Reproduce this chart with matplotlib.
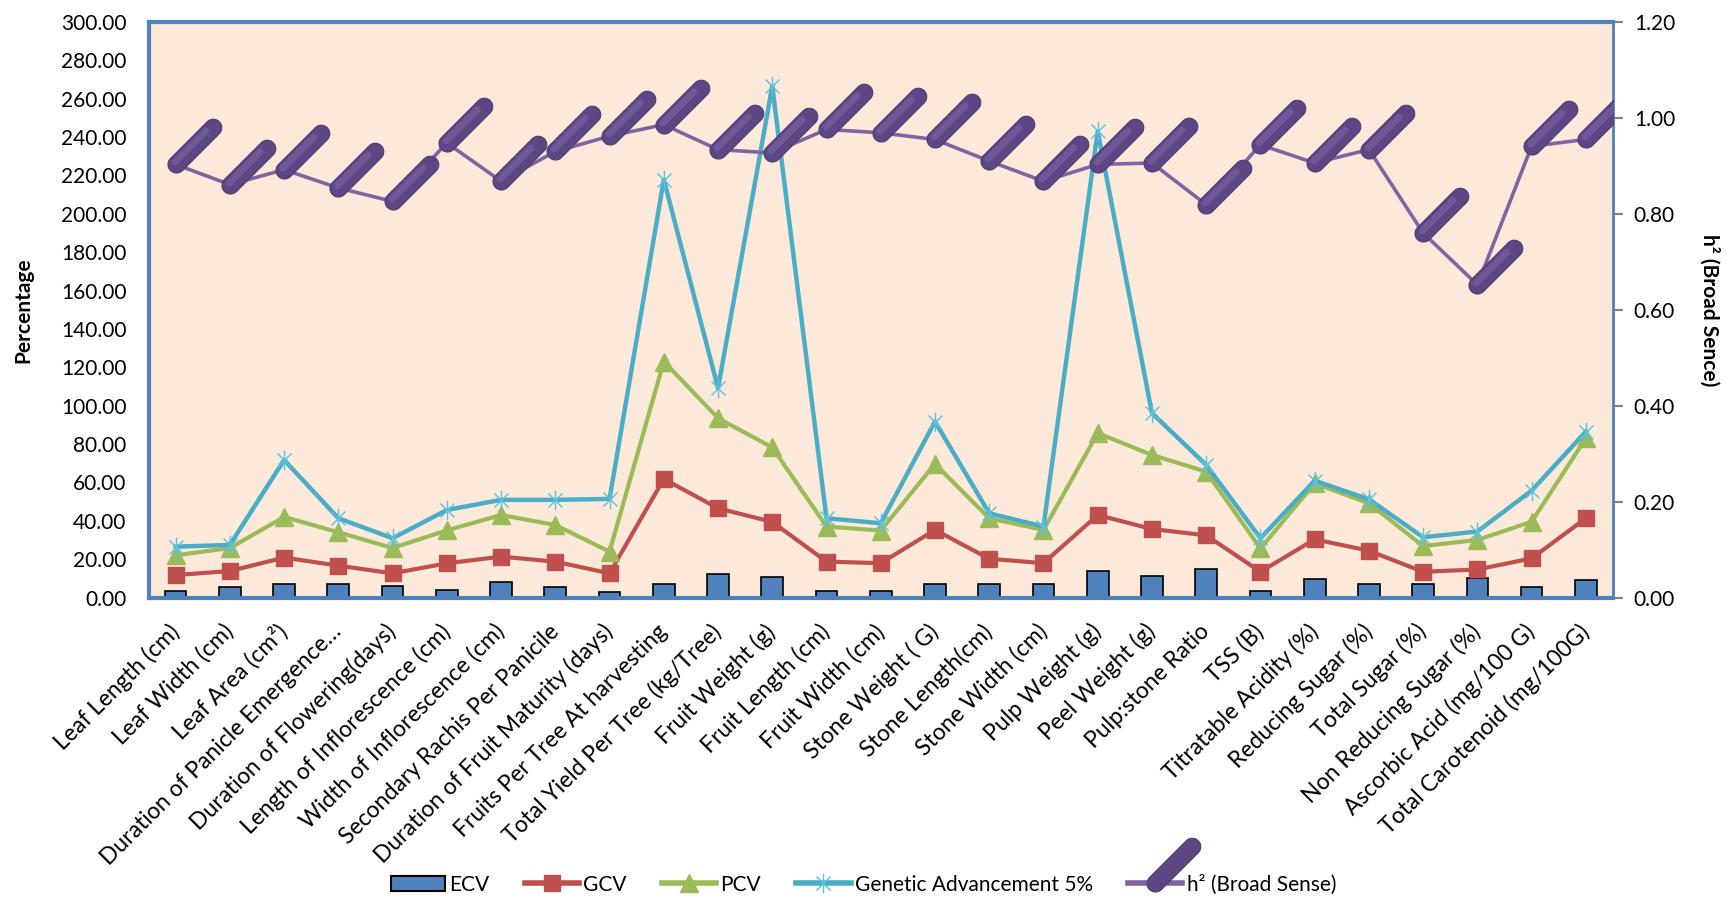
import numpy as np
import matplotlib
matplotlib.use("Agg")
import matplotlib.pyplot as plt
from matplotlib.path import Path
from matplotlib.lines import Line2D
from matplotlib.patches import Patch

plt.rcParams['font.family'] = ['Lato', 'DejaVu Sans']

traits = [
    "Leaf Length (cm)", "Leaf Width (cm)", "Leaf Area (cm²)",
    "Duration of Panicle Emergence…", "Duration of Flowering(days)",
    "Length of Inflorescence (cm)", "Width of Inflorescence (cm)",
    "Secondary Rachis Per Panicile", "Duration of Fruit Maturity (days)",
    "Fruits Per Tree At harvesting", "Total Yield Per Tree (kg/Tree)",
    "Fruit Weight (g)", "Fruit Length (cm)", "Fruit Width (cm)",
    "Stone Weight ( G)", "Stone Length(cm)", "Stone Width (cm)",
    "Pulp Weight (g)", "Peel Weight (g)", "Pulp:stone Ratio", "TSS (B)",
    "Titratable Acidity (%)", "Reducing Sugar (%)", "Total Sugar (%)",
    "Non Reducing Sugar (%)", "Ascorbic Acid (mg/100 G)",
    "Total Carotenoid (mg/100G)",
]

ecv = [3.6, 5.7, 6.9, 6.9, 6.2, 3.9, 8.3, 5.6, 2.8, 6.8, 12.3, 10.9, 3.6, 3.6,
       6.8, 6.8, 6.8, 14.0, 11.4, 15.1, 3.6, 9.5, 6.8, 6.9, 10.2, 5.6, 9.1]
gcv = [11.7, 13.8, 20.8, 16.6, 12.6, 17.8, 21.3, 18.7, 12.6, 61.8, 46.5, 39.4,
       18.7, 17.9, 35.2, 20.2, 17.9, 43.0, 35.7, 32.4, 13.4, 30.3, 24.4, 13.4,
       14.6, 20.4, 41.3]
pcv = [22.0, 25.8, 42.0, 34.0, 25.8, 35.0, 43.0, 37.8, 23.9, 123.0, 93.5, 78.2,
       37.0, 34.9, 69.6, 41.3, 35.2, 85.7, 74.3, 65.6, 25.6, 59.5, 49.1, 26.8,
       30.0, 39.5, 83.0]
genetic_adv = [26.5, 27.4, 71.7, 41.3, 30.9, 45.6, 50.9, 50.9, 51.4, 217.8,
               109.1, 266.5, 41.3, 38.7, 91.7, 43.9, 37.0, 243.0, 96.1, 69.1,
               30.9, 60.9, 51.2, 31.4, 34.4, 55.7, 86.5]
heritability = [0.903, 0.861, 0.892, 0.854, 0.826, 0.948, 0.868, 0.930, 0.962,
                0.986, 0.934, 0.927, 0.976, 0.969, 0.955, 0.910, 0.868, 0.903,
                0.906, 0.819, 0.944, 0.906, 0.934, 0.760, 0.652, 0.941, 0.955]

left_ticks = np.arange(0, 301, 20)
right_ticks = np.arange(0, 1.21, 0.2)

C_ECV = "#4F81BD"
C_GCV = "#C0504D"
C_PCV = "#9BBB59"
C_GA = "#4BACC6"
C_H2 = "#8064A2"
C_BG = "#FDE9D9"
C_SPINE = "#4F81BD"


def capsule(length, radius, offset=(0.0, 0.0), n=24):
    """Rounded rod tilted at 45 degrees, starting at the origin (pixel units)."""
    d = np.array([1.0, 1.0]) / np.sqrt(2)
    p0 = np.array(offset, dtype=float)
    p1 = p0 + d * length
    base = np.arctan2(d[1], d[0])
    top = [p1 + radius * np.array([np.cos(a), np.sin(a)])
           for a in np.linspace(base - np.pi / 2, base + np.pi / 2, n)]
    bot = [p0 + radius * np.array([np.cos(a), np.sin(a)])
           for a in np.linspace(base + np.pi / 2, base + 3 * np.pi / 2, n)]
    verts = np.array(top + bot + [top[0]])
    codes = [Path.MOVETO] + [Path.LINETO] * (len(verts) - 2) + [Path.CLOSEPOLY]
    return Path(verts, codes)


def marker_size(path, dpi=100):
    # marker paths are normalised to their largest coordinate
    return 2 * np.max(np.abs(path.vertices)) * 72.0 / dpi


rod = capsule(52, 8.5)
rod_shine = capsule(44, 3.4, offset=(-1.5, 2.5))

star = Path([(0, -1), (0, 1), (-0.72, -0.72), (0.72, 0.72), (-0.72, 0.72), (0.72, -0.72)],
            [Path.MOVETO, Path.LINETO, Path.MOVETO, Path.LINETO, Path.MOVETO, Path.LINETO])

W, H = 1727, 898
fig = plt.figure(figsize=(W / 100, H / 100), dpi=100)
x0, x1, y0, y1 = 148.5, 1613, 22, 597.5
ax = fig.add_axes([x0 / W, 1 - y1 / H, (x1 - x0) / W, (y1 - y0) / H])
ax.set_facecolor(C_BG)

x = np.arange(len(traits))
ax.bar(x, ecv, width=0.4, color=C_ECV, edgecolor="black", linewidth=1.2, zorder=2)
ax.plot(x, gcv, color=C_GCV, lw=3.0, marker="s", ms=12, mfc=C_GCV, mec=C_GCV, zorder=3)
ax.plot(x, pcv, color=C_PCV, lw=3.0, marker="^", ms=13, mfc=C_PCV, mec=C_PCV, zorder=4)
ax.plot(x, genetic_adv, color=C_GA, lw=3.2, marker=star, ms=14, mew=1.0,
        mec="#5BC3DD", zorder=5)

ax.set_xlim(-0.5, len(traits) - 0.5)
ax.set_ylim(0, 300)
ax.set_yticks(left_ticks)
ax.set_yticklabels([f"{v:.2f}" for v in left_ticks], fontsize=15)
ax.tick_params(axis="y", length=0, pad=16)
ax.set_xticks(x)
ax.set_xticklabels(traits, rotation=45, ha="right", va="center",
                   rotation_mode="anchor", fontsize=16.5)
ax.tick_params(axis="x", length=0, pad=22)
ax.set_ylabel("Percentage", fontsize=15, fontweight="bold", labelpad=20)

ax2 = ax.twinx()
ax2.plot(x, heritability, color=C_H2, lw=2.6, marker=rod, ms=marker_size(rod),
         mfc="#5C4784", mec="#4E3C72", mew=0.8, zorder=6)
ax2.plot(x, heritability, ls="none", marker=rod_shine, ms=marker_size(rod_shine),
         mfc="#7C66A6", mec="none", alpha=0.55, zorder=7)
ax2.set_ylim(0, 1.2)
ax2.set_yticks(right_ticks)
ax2.set_yticklabels([f"{v:.2f}" for v in right_ticks], fontsize=15)
ax2.tick_params(axis="y", length=7, width=1.5, color="#808080", pad=8)
ax2.set_ylabel("h² (Broad Sence)", fontsize=15, fontweight="bold",
               rotation=270, labelpad=32)

for a in (ax, ax2):
    for s in a.spines.values():
        s.set_color(C_SPINE)
ax.spines["top"].set_linewidth(3)
ax.spines["left"].set_linewidth(3)
ax.spines["bottom"].set_linewidth(3)
ax.spines["right"].set_visible(False)
ax2.spines["right"].set_linewidth(2)
for side in ("top", "left", "bottom"):
    ax2.spines[side].set_visible(False)

handles = [
    Patch(facecolor=C_ECV, edgecolor="black", linewidth=1.5),
    Line2D([], [], color=C_GCV, lw=4, marker="s", ms=12, mfc=C_GCV, mec=C_GCV),
    Line2D([], [], color=C_PCV, lw=4, marker="^", ms=13, mfc=C_PCV, mec=C_PCV),
    Line2D([], [], color=C_GA, lw=4, marker=star, ms=14, mew=1.0, mec="#5BC3DD"),
    Line2D([], [], color=C_H2, lw=4, marker=rod, ms=marker_size(rod),
           mfc="#5C4784", mec="#4E3C72", mew=0.8),
]
labels = ["ECV", "GCV", "PCV", "Genetic Advancement 5%", "h² (Broad Sense)"]
fig.legend(handles, labels, loc="center", bbox_to_anchor=(0.5, 0.015), ncol=5,
           frameon=False, fontsize=15, handlelength=2.6, columnspacing=1.7,
           handletextpad=0.2)

fig.savefig("out.png", dpi=100, facecolor="white")
